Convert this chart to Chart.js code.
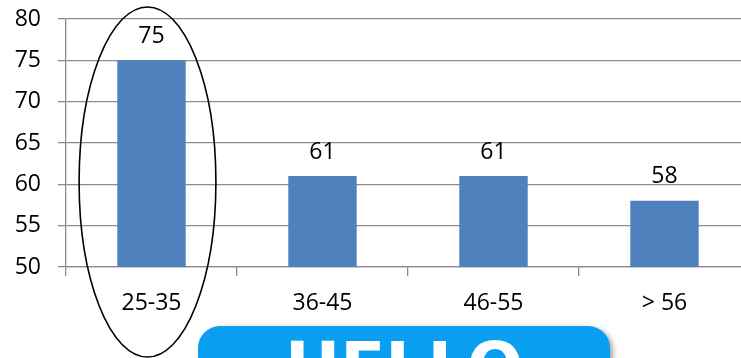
<!DOCTYPE html>
<html>
<head>
<meta charset="utf-8">
<script src="https://cdn.jsdelivr.net/npm/chart.js@4.4.1/dist/chart.umd.min.js"></script>
<style>
  html, body { margin: 0; padding: 0; background: #fff; overflow: hidden; }
  body { width: 741px; height: 358px; position: relative; }
  #wrap { position: absolute; left: 0; top: 0; width: 752px; height: 358px; }
  #banner {
    position: absolute; left: 198px; top: 326px; width: 412px; height: 80px;
    background: #0a9ff0; border-radius: 22px;
    box-shadow: 3px 2px 5px rgba(0, 0, 0, 0.35);
    color: #fff; font-family: "DejaVu Sans", sans-serif; font-weight: bold;
    font-size: 66px; line-height: 66px; padding: 8px 0 0 87px; box-sizing: border-box;
  }
</style>
</head>
<body>
<div id="wrap"><canvas id="ageChart"></canvas></div>
<div id="banner">HELLO</div>
<script>
// age groups and their scores
const ageGroups = ['25-35', '36-45', '46-55', '> 56'];
const scores = [75, 61, 61, 58];
const yTicks = [50, 55, 60, 65, 70, 75, 80];

const FONT = '"Open Sans", sans-serif';
const GRID = '#8c8c8c';

// numbers above each bar
const valueLabels = {
    id: 'valueLabels',
    afterDatasetsDraw(chart) {
        const ctx = chart.ctx;
        const meta = chart.getDatasetMeta(0);
        ctx.save();
        ctx.font = '23px ' + FONT;
        ctx.fillStyle = '#000';
        ctx.textAlign = 'center';
        ctx.textBaseline = 'middle';
        meta.data.forEach((bar, i) => {
            ctx.fillText(String(scores[i]), bar.x, bar.y - 24);
        });
        ctx.restore();
    }
};

// hand-drawn ring around the first group
const ring = {
    id: 'ring',
    afterDraw(chart) {
        const x = chart.scales.x, y = chart.scales.y;
        const step = x.getPixelForValue(1) - x.getPixelForValue(0);
        const cx = x.getPixelForValue(0) - 4;
        const rx = step * 0.4;
        const top = y.getPixelForValue(80) - 12;
        const bottom = chart.height - 1;
        const ctx = chart.ctx;
        ctx.save();
        ctx.beginPath();
        ctx.ellipse(cx, (top + bottom) / 2, rx, (bottom - top) / 2, 0, 0, Math.PI * 2);
        ctx.lineWidth = 1.6;
        ctx.strokeStyle = '#000';
        ctx.stroke();
        ctx.restore();
    }
};

new Chart(document.getElementById('ageChart'), {
    type: 'bar',
    data: {
        labels: ageGroups,
        datasets: [{
            data: scores,
            backgroundColor: '#4f81bd',
            barPercentage: 0.8,
            categoryPercentage: 0.5
        }]
    },
    options: {
        responsive: true,
        maintainAspectRatio: false,
        animation: false,
        layout: { padding: { top: 19, right: 2, left: 0, bottom: 0 } },
        plugins: { legend: { display: false }, tooltip: { enabled: false } },
        scales: {
            x: {
                grid: { offset: true, drawOnChartArea: false, color: GRID, tickLength: 9, lineWidth: 1.3 },
                border: { color: GRID, width: 1.3 },
                ticks: { color: '#000', font: { family: FONT, size: 23 }, padding: 14 },
                afterFit(scale) { scale.height = 91; scale.paddingLeft = 0; scale.paddingRight = 0; }
            },
            y: {
                min: 50,
                max: 80,
                afterBuildTicks(scale) { scale.ticks = yTicks.map(v => ({ value: v })); },
                grid: { color: GRID, tickLength: 8, lineWidth: 1.3 },
                border: { color: GRID, width: 1.3 },
                ticks: { color: '#000', font: { family: FONT, size: 23 }, padding: 17 },
                afterFit(scale) { scale.width = 66; scale.paddingTop = 0; scale.paddingBottom = 0; }
            }
        }
    },
    plugins: [valueLabels, ring]
});
</script>
</body>
</html>
